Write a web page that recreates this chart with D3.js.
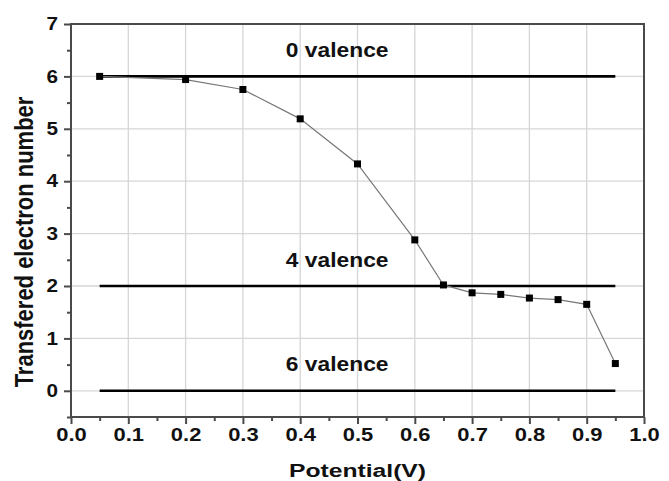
<!DOCTYPE html>
<html><head><meta charset="utf-8">
<script src="https://cdn.jsdelivr.net/npm/d3@7"></script>
<style>body{margin:0;background:#fff}svg{display:block}text{font-family:"Liberation Sans",Arial,sans-serif;font-weight:bold}</style>
</head><body>
<svg id="c" width="669" height="481"></svg>
<script>
const potential = [0.05, 0.2, 0.3, 0.4, 0.5, 0.6, 0.65, 0.7, 0.75, 0.8, 0.85, 0.9, 0.95];
const electrons = [6.0, 5.94, 5.75, 5.19, 4.33, 2.88, 2.02, 1.87, 1.84, 1.77, 1.74, 1.65, 0.52];
const refLevels = [6, 2, 0];
const refLabels = ["0 valence", "4 valence", "6 valence"];
const refRange = [0.05, 0.95];
const xTicks = [0,0.1,0.2,0.3,0.4,0.5,0.6,0.7,0.8,0.9,1.0];
const yTicks = [0,1,2,3,4,5,6,7];

const svg = d3.select("#c");
const L=71, R=644, T=24, B=417;
const x = d3.scaleLinear().domain([0,1]).range([L,R]);
const y = d3.scaleLinear().domain([-0.5,7]).range([B,T]);

// grid
svg.append("g").selectAll("line").data(xTicks.slice(1,-1)).join("line")
  .attr("x1",d=>x(d)).attr("x2",d=>x(d)).attr("y1",T).attr("y2",B)
  .attr("stroke","#d6d6d6").attr("stroke-width",1.3);
svg.append("g").selectAll("line").data(yTicks.slice(0,-1)).join("line")
  .attr("x1",L).attr("x2",R).attr("y1",d=>y(d)).attr("y2",d=>y(d))
  .attr("stroke","#d6d6d6").attr("stroke-width",1.3);

// frame
svg.append("rect").attr("x",L).attr("y",T).attr("width",R-L).attr("height",B-T)
  .attr("fill","none").attr("stroke","#4a4a4a").attr("stroke-width",2);

// axes
const xAx = svg.append("g").attr("transform",`translate(0,${B})`)
  .call(d3.axisBottom(x).tickValues(xTicks).tickFormat(d3.format(".1f")).tickSize(7).tickPadding(4));
const xMinor = svg.append("g").attr("transform",`translate(0,${B})`)
  .call(d3.axisBottom(x).tickValues(d3.range(0.05,1,0.1)).tickFormat("").tickSize(4));
const yAx = svg.append("g").attr("transform",`translate(${L},0)`)
  .call(d3.axisLeft(y).tickValues(yTicks).tickFormat(d3.format("d")).tickSize(7).tickPadding(6));
const yMinor = svg.append("g").attr("transform",`translate(${L},0)`)
  .call(d3.axisLeft(y).tickValues(d3.range(-0.5,7,1)).tickFormat("").tickSize(4));
[xAx,xMinor,yAx,yMinor].forEach(g=>{
  g.select(".domain").remove();
  g.selectAll(".tick line").attr("stroke","#4a4a4a").attr("stroke-width",2);
  g.selectAll("text").attr("fill","#111").style("font-size","18px")
    .style("font-family",'"Liberation Sans",Arial,sans-serif').style("font-weight","bold");
});
xAx.selectAll("text").attr("transform","scale(1.22,1)");
yAx.selectAll("text").attr("x",-13/1.15).attr("transform","scale(1.15,1)");

// reference lines
svg.append("g").selectAll("line").data(refLevels).join("line")
  .attr("x1",x(refRange[0])).attr("x2",x(refRange[1]))
  .attr("y1",d=>y(d)).attr("y2",d=>y(d))
  .attr("stroke","#000").attr("stroke-width",2.6);
svg.append("g").selectAll("text").data(refLevels).join("text")
  .attr("transform",d=>`translate(${x(0.4645)},${y(d)-19.5}) scale(1.14,1)`)
  .attr("text-anchor","middle")
  .style("font-size","20px").attr("fill","#111").text((d,i)=>refLabels[i]);

// data line
const pts = potential.map((p,i)=>[p,electrons[i]]);
svg.append("path").datum(pts)
  .attr("d",d3.line().x(d=>x(d[0])).y(d=>y(d[1])))
  .attr("fill","none").attr("stroke","#777").attr("stroke-width",1.2);
svg.append("g").selectAll("rect").data(pts).join("rect")
  .attr("x",d=>x(d[0])-3.5).attr("y",d=>y(d[1])-3.5).attr("width",7).attr("height",7)
  .attr("fill","#000");

// axis titles
svg.append("text").attr("transform",`translate(${(L+R)/2},476.5) scale(1.3,1)`).attr("text-anchor","middle")
  .style("font-size","19px").attr("fill","#111").text("Potential(V)");
svg.append("text").attr("transform",`translate(33,242) rotate(-90) scale(1,1.15)`)
  .attr("text-anchor","middle").style("font-size","22px").attr("fill","#111")
  .text("Transfered electron number");
</script>
</body></html>
